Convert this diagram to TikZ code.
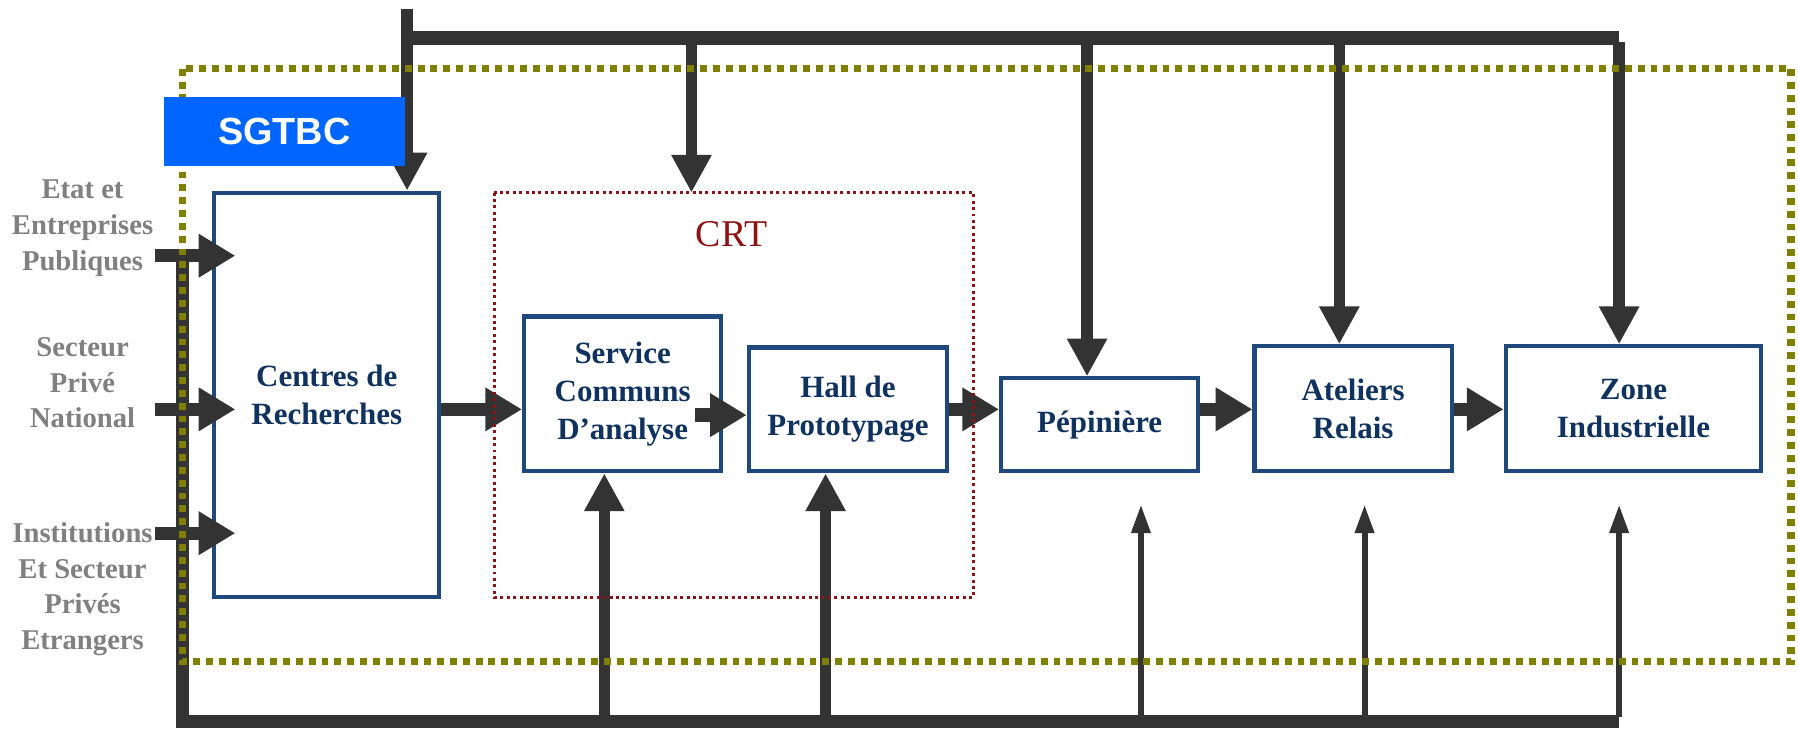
\documentclass[tikz,border=0pt]{standalone}
\usepackage{fontspec}
\setmainfont{Liberation Serif}
\setsansfont{Liberation Sans}
\usetikzlibrary{arrows.meta,calc}
\definecolor{navytext}{RGB}{16,50,95}
\definecolor{boxblue}{RGB}{31,73,125}
\definecolor{srcgray}{RGB}{128,128,128}
\definecolor{arrowgray}{RGB}{51,51,51}
\definecolor{olivec}{RGB}{128,128,0}
\definecolor{crtred}{RGB}{140,20,20}
\definecolor{sgblue}{RGB}{0,102,255}
\begin{document}
\begin{tikzpicture}[x=0.5pt,y=-0.5pt,
  box/.style={draw=boxblue,line width=1.8pt,fill=white,text=navytext,
    font=\fontsize{13.5}{16.5}\selectfont\bfseries,align=center,inner sep=0pt},
  src/.style={text=srcgray,font=\fontsize{12.5}{15.5}\selectfont\bfseries,align=center,inner sep=0pt},
  flow/.style={draw=arrowgray,line width=5.8pt,-{Triangle[length=16pt,width=18pt]}},
  bus/.style={draw=arrowgray,line width=5.5pt,line join=miter},
  drop/.style={draw=arrowgray,line width=5pt,-{Triangle[length=16.5pt,width=16.5pt]}},
  thinarrow/.style={draw=arrowgray,line width=2.6pt,-{Triangle[length=12.5pt,width=8pt]}},
  olivedot/.style={draw=olivec,line width=3.2pt,dash pattern=on 3pt off 2.6pt},
  crtdot/.style={draw=crtred,line width=1.3pt,dash pattern=on 1.3pt off 1.5pt},
]
\useasboundingbox (0,0) rectangle (1568,636);

% left labels
\node[src] (etat) at (72,199) {Etat et\\Entreprises\\Publiques};
\node[src] (prive) at (72,334) {Secteur\\Privé\\National};
\node[src] (inst) at (72,514) {Institutions\\Et Secteur\\Privés\\Etrangers};

% boxes
\node[box,minimum width=98pt,minimum height=176.5pt] (centres) at (285,344.5) {Centres de\\Recherches};
\node[minimum width=209pt,minimum height=176.5pt,inner sep=0pt,outer sep=0pt] (crt) at (640,344.5) {};
\node[text=crtred,font=\fontsize{16.5}{18}\selectfont] (crtlabel) at (638,204) {CRT};
\node[box,minimum width=86pt,minimum height=67.5pt] (service) at (543,343.5) {Service\\Communs\\D’analyse};
\node[box,minimum width=86.5pt,minimum height=54pt] (hall) at (739.5,357) {Hall de\\Prototypage};
\node[box,minimum width=86pt,minimum height=40.5pt] (pep) at (959,370.5) {Pépinière};
\node[box,minimum width=86pt,minimum height=54.5pt] (ate) at (1180,356.5) {Ateliers\\Relais};
\node[box,minimum width=111.5pt,minimum height=54.5pt] (zone) at (1424.5,356.5) {Zone\\Industrielle};

% coordinates
\coordinate (row) at (0,357);
\coordinate (row2) at (0,362);
\coordinate (topstart) at (355,8);
\coordinate (j1) at (355,33);
\coordinate (j2) at (603,33);
\coordinate (j3) at (948,33);
\coordinate (j4) at (1168,33);
\coordinate (j5) at (1412,33);
\coordinate (in1) at (135,223);
\coordinate (in2) at (135,357);
\coordinate (in3) at (135,465);
\coordinate (b0) at (159,223);
\coordinate (b1) at (159,629);
\coordinate (b2) at (1412,629);
\coordinate (u1) at (527,629);
\coordinate (u2) at (720,629);
\coordinate (u3) at (995,629);
\coordinate (u4) at (1190,629);
\coordinate (e3) at (995,440);
\coordinate (e4) at (1190,440);
\coordinate (e5) at (1412,440);

% top bus
\draw[bus,line width=6pt] (j1) -- (j5);
\draw[drop] (topstart) -- (topstart |- centres.north);
\draw[drop] (j2) -- (j2 |- crt.north);
\draw[drop] (j3) -- (j3 |- pep.north);
\draw[drop] (j4) -- (j4 |- ate.north);
\draw[drop] ([yshift=-2pt]j5) -- (j5 |- zone.north);

% bottom bus
\draw[bus] (b0) -- (b1) -- (b2);
\draw[drop] (u1) -- (u1 |- service.south);
\draw[drop] (u2) -- (u2 |- hall.south);
\draw[thinarrow] (u3) -- (e3);
\draw[thinarrow] (u4) -- (e4);
\draw[thinarrow] ([yshift=2pt]b2) -- (e5);

% inputs
\draw[flow] (in1) -- ($(centres.west |- in1)+(20,0)$);
\draw[flow] (in2) -- ($(centres.west |- in2)+(20,0)$);
\draw[flow] (in3) -- ($(centres.west |- in3)+(20,0)$);

% flow chain
\draw[flow] (centres.east |- row) -- (service.west |- row);
\draw[flow] ($(service.east |- row2)+(-25,0)$) -- (hall.west |- row2);
\draw[flow] (hall.east |- row) -- (pep.west |- row);
\draw[flow] (pep.east |- row) -- (ate.west |- row);
\draw[flow] (ate.east |- row) -- (zone.west |- row);

% frames
\draw[crtdot] (crt.north west) rectangle (crt.south east);
\draw[olivedot] (159,60) rectangle (1562,577);

\node[fill=sgblue,text=white,font=\sffamily\bfseries\fontsize{16.5}{18}\selectfont,
  minimum width=105pt,minimum height=30pt,inner sep=0pt] (sgtbc) at (248,115) {SGTBC};
\end{tikzpicture}
\end{document}
